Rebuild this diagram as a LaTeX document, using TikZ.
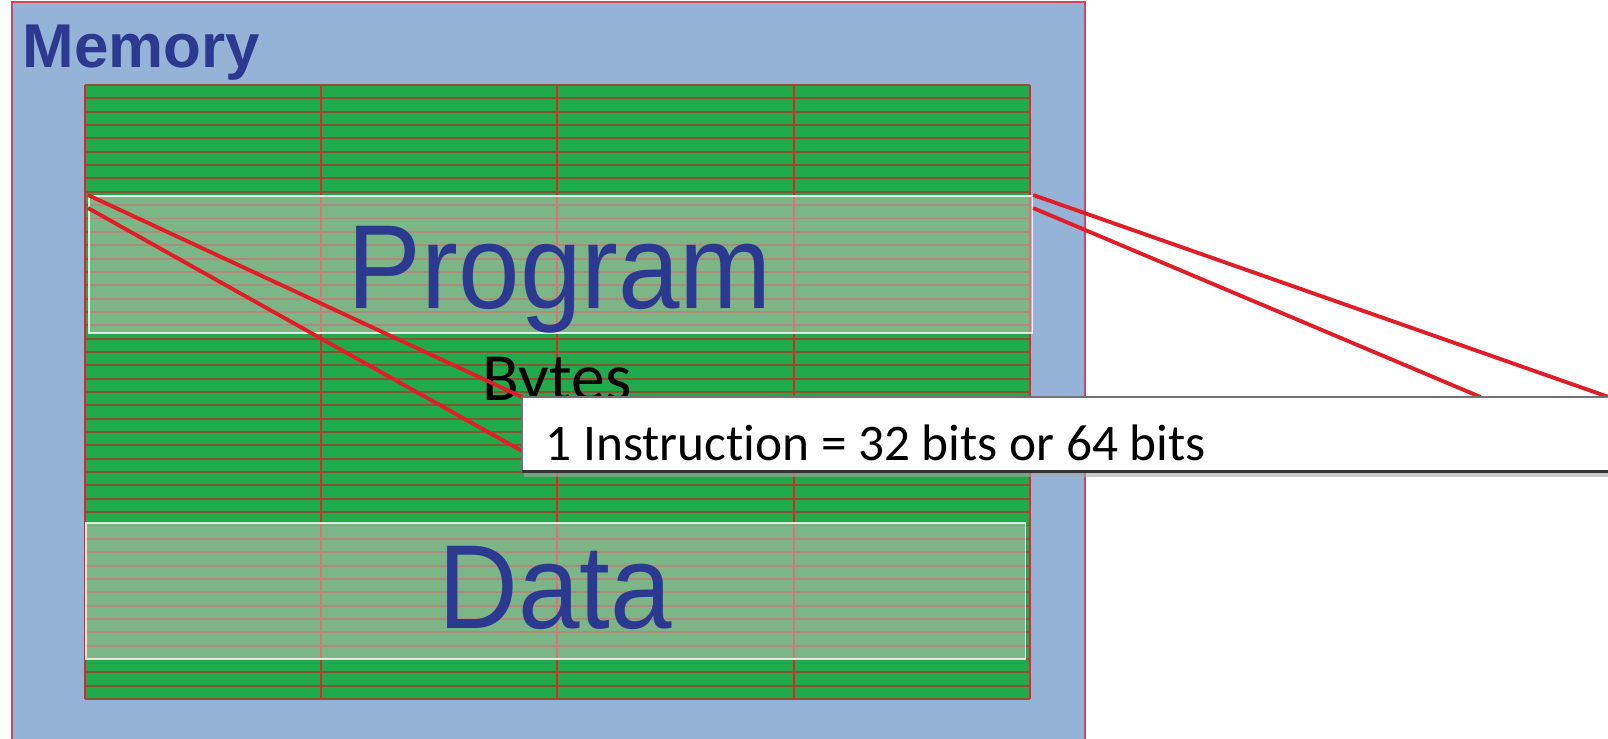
\documentclass[tikz,border=0pt]{standalone}
\usepackage{fontspec}
\setmainfont{Carlito}[Ligatures=NoCommon]
\newfontfamily\arialfont{Liberation Sans}
\usetikzlibrary{positioning}

\definecolor{memblue}{RGB}{149,179,215}
\definecolor{cellgreen}{RGB}{33,170,75}
\definecolor{textblue}{RGB}{43,57,144}
\definecolor{rowline}{RGB}{135,85,50}
\definecolor{colline}{RGB}{220,40,40}
\definecolor{linkred}{RGB}{225,30,40}
\definecolor{edgered}{RGB}{205,70,90}

\tikzset{
  overlaybox/.style={draw=white, draw opacity=0.8, line width=0.45pt,
    fill={rgb,255:red,215;green,195;blue,195}, fill opacity=0.5,
    inner sep=0pt, anchor=north west},
  link/.style={draw=linkred, line width=1.1pt},
  bigtext/.style={font=\arialfont\fontsize{34}{34}\selectfont, text=textblue,
    anchor=base, inner sep=0pt},
}

\begin{document}
\begin{tikzpicture}[x=0.01cm, y=-0.01cm]
  \useasboundingbox (0,0) rectangle (1608,738);

  % メモリ
  \draw[fill=memblue, draw=edgered, line width=0.4pt] (12,2) rectangle (1085,760);
  \node[font=\arialfont\bfseries\fontsize{17.6}{17.6}\selectfont, text=textblue,
    anchor=base west, inner sep=0pt] (memlabel) at (22,67) {Memory};

  % バイトの格子
  \fill[cellgreen] (85,85) rectangle (1030,699);
  \foreach \r in {0,...,46}
    \draw[rowline, line width=0.55pt] (85,{85+\r*13.348}) -- (1030,{85+\r*13.348});
  \foreach \c in {85,321,557,794,1030}
    \draw[colline, line width=0.35pt] (\c,85) -- (\c,699);

  % 領域
  \node[overlaybox, minimum width=9.43cm, minimum height=1.37cm] (progbox) at (88,195) {};
  \node[overlaybox, minimum width=9.39cm, minimum height=1.36cm] (databox) at (85,522) {};
  \node[bigtext] (progtext) at (560,308) {\scalebox{0.925}[1]{Program}};
  \node[bigtext] (datatext) at (555,628) {\scalebox{0.925}[1]{Data}};
  \node[font=\fontsize{19.2}{19.2}\selectfont, anchor=base west, inner sep=0pt]
    (bytes) at (482,400) {Bytes};

  % 吹き出し
  \node[anchor=north west, minimum width=11.5cm, minimum height=0.73cm, inner sep=0pt]
    (callout) at (522,397) {};
  \draw[link] (progbox.north west) -- (callout.north west);
  \draw[link] ([yshift=-0.13cm]progbox.north west) -- ([yshift=-0.54cm]callout.north west);
  \draw[link] (progbox.north east) -- ([xshift=10.86cm]callout.north west);
  \draw[link] ([yshift=-0.13cm]progbox.north east) -- ([xshift=9.58cm]callout.north west);
  \fill[black!35, opacity=0.6] ([xshift=0.02cm]callout.south west) rectangle ([yshift=-0.06cm]callout.south east);
  \draw[fill=white, draw=black!55, line width=0.3pt] (callout.north west) rectangle (callout.south east);
  \draw[black!80, line width=0.6pt] (callout.south west) -- (callout.south east);
  \node[font=\fontsize{14.6}{14.6}\selectfont, anchor=base west, inner sep=0pt]
    (calltext) at (545,460) {1 Instruction = 32 bits or 64 bits};
\end{tikzpicture}
\end{document}
